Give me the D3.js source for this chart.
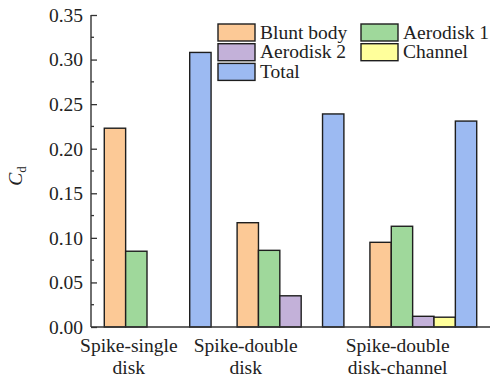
<!DOCTYPE html>
<html>
<head>
<meta charset="utf-8">
<script src="https://cdn.jsdelivr.net/npm/d3@7"></script>
<style>
  html, body { margin: 0; padding: 0; background: #fff; }
  svg { display: block; font-family: "Liberation Serif", "Times New Roman", serif; }
</style>
</head>
<body>
<svg id="chart" width="491" height="381"></svg>
<script>
// Drag coefficient breakdown per configuration
const categories = ["Spike-single disk", "Spike-double disk", "Spike-double disk-channel"];
const categoryLines = [["Spike-single", "disk"], ["Spike-double", "disk"], ["Spike-double", "disk-channel"]];
const seriesNames = ["Blunt body", "Aerodisk 1", "Aerodisk 2", "Channel", "Total"];
const bluntBody = [0.223, 0.117, 0.095];
const aerodisk1 = [0.085, 0.086, 0.113];
const aerodisk2 = [null, 0.035, 0.012];
const channel   = [null, null, 0.011];
const total     = [0.308, 0.239, 0.231];
const yTicks = [0, 0.05, 0.10, 0.15, 0.20, 0.25, 0.30, 0.35];

const seriesValues = [bluntBody, aerodisk1, aerodisk2, channel, total];
const colors = ["#FCC996", "#9FD89B", "#C3B1D9", "#FFFF9B", "#9CBAF2"];
// legend layout: [column, row] for each series
const legendSlots = [[0, 0], [1, 0], [0, 1], [1, 1], [0, 2]];
// horizontal anchor of each category caption within its group band
const captionAnchor = [0.23, 0.08, 0.26];

const svg = d3.select("#chart");
const plotLeft = 91, plotRight = 490, plotTop = 15, plotBottom = 327;

const x = d3.scaleBand().domain(categories).range([plotLeft, plotRight])
  .paddingInner(0.196).paddingOuter(0.1);
const xs = d3.scaleBand().domain(seriesNames).range([0, x.bandwidth()]).padding(0);
const y = d3.scaleLinear().domain([0, 0.35]).range([plotBottom, plotTop]);

// bars
const barData = [];
categories.forEach((c, i) => {
  seriesNames.forEach((s, j) => {
    const v = seriesValues[j][i];
    if (v != null) barData.push({ c, s, v, color: colors[j] });
  });
});
svg.append("g").selectAll("rect").data(barData).join("rect")
  .attr("x", d => x(d.c) + xs(d.s))
  .attr("width", xs.bandwidth())
  .attr("y", d => y(d.v))
  .attr("height", d => y(0) - y(d.v))
  .attr("fill", d => d.color)
  .attr("stroke", "#1e1e1e")
  .attr("stroke-width", 1.4);

// y axis: inward major ticks, minor ticks between
const yAxis = d3.axisRight(y).tickValues(yTicks).tickSize(6).tickFormat("");
const gy = svg.append("g").attr("transform", `translate(${plotLeft},0)`).call(yAxis);
const minor = d3.range(0.025, 0.35, 0.05);
gy.selectAll(".minor").data(minor).join("line").attr("class", "minor")
  .attr("x1", 0).attr("x2", 3).attr("y1", d => y(d)).attr("y2", d => y(d));
gy.selectAll("line").attr("stroke", "#333").attr("stroke-width", 1.3);
gy.select(".domain").attr("stroke", "#333").attr("stroke-width", 1.4).attr("d", `M0,${plotBottom}V${plotTop}`);

svg.append("g").selectAll("text").data(yTicks).join("text")
  .attr("x", plotLeft - 8).attr("y", d => y(d)).attr("dy", "0.35em")
  .attr("text-anchor", "end").attr("font-size", 19.5).attr("fill", "#222")
  .text(d3.format(".2f"));

// x axis baseline
const xAxis = d3.axisBottom(x).tickSize(0).tickFormat("");
const gx = svg.append("g").attr("transform", `translate(0,${plotBottom})`).call(xAxis);
gx.select(".domain").attr("stroke", "#333").attr("stroke-width", 1.4).attr("d", `M${plotLeft},0H${plotRight}`);

// category captions
categories.forEach((c, i) => {
  const cx = x(c) + x.bandwidth() * captionAnchor[i];
  categoryLines[i].forEach((line, k) => {
    svg.append("text").attr("x", cx).attr("y", 352 + k * 22)
      .attr("text-anchor", "middle").attr("font-size", 19.5).attr("fill", "#222")
      .text(line);
  });
});

// y axis title: C_d
const yt = svg.append("text")
  .attr("transform", "translate(22,176) rotate(-90)")
  .attr("text-anchor", "middle").attr("font-size", 19.5).attr("fill", "#222");
yt.append("tspan").attr("font-style", "italic").text("C");
yt.append("tspan").attr("font-size", 13).attr("dy", 4).text("d");

// legend
const legend = svg.append("g");
seriesNames.forEach((s, j) => {
  const [col, row] = legendSlots[j];
  const lx = 218 + col * 143, ly = 24 + row * 19.7;
  legend.append("rect").attr("x", lx).attr("y", ly).attr("width", 37).attr("height", 17)
    .attr("fill", colors[j]).attr("stroke", "#1e1e1e").attr("stroke-width", 1.4);
  legend.append("text").attr("x", lx + 42).attr("y", ly + 14.5)
    .attr("font-size", 19.5).attr("fill", "#222").text(s);
});
</script>
</body>
</html>
